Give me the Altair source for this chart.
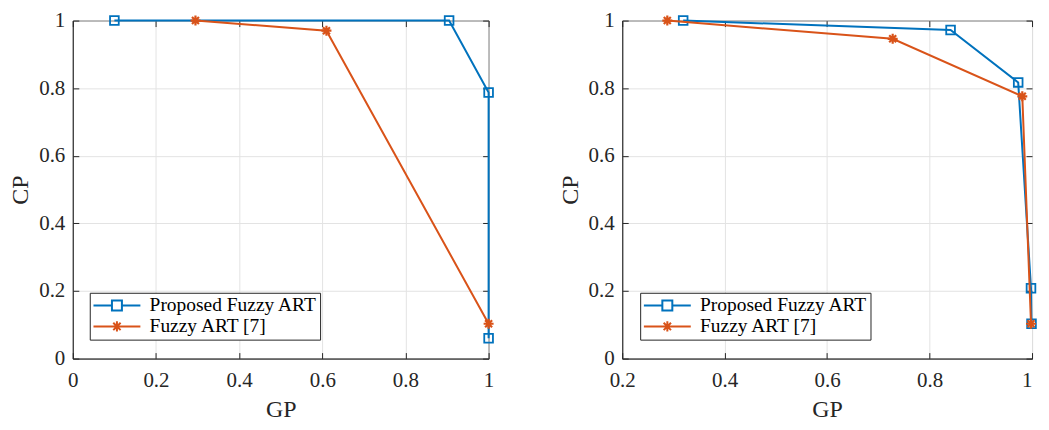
import altair as alt
import pandas as pd

SERIES = ["Proposed Fuzzy ART", "Fuzzy ART [7]"]
BLUE = "#0072BD"
ORANGE = "#D95319"
FONT = "Liberation Serif, Times New Roman, serif"
INK = "#262626"

# Left panel
left_prop_gp = [0.10, 0.905, 1.0, 1.0]
left_prop_cp = [1.0, 1.0, 0.787, 0.06]
left_fz_gp = [0.295, 0.61, 1.0]
left_fz_cp = [1.0, 0.97, 0.103]
left_xticks = [0, 0.2, 0.4, 0.6, 0.8, 1.0]

# Right panel
right_prop_gp = [0.319, 0.841, 0.973, 0.998, 0.999]
right_prop_cp = [1.0, 0.972, 0.817, 0.208, 0.103]
right_fz_gp = [0.288, 0.728, 0.981, 0.998]
right_fz_cp = [1.0, 0.946, 0.776, 0.103]
right_xticks = [0.2, 0.4, 0.6, 0.8, 1.0]

yticks = [0, 0.2, 0.4, 0.6, 0.8, 1.0]

STAR = "M-1,0L1,0M0,-1L0,1M-0.7,-0.7L0.7,0.7M-0.7,0.7L0.7,-0.7"
SQUARE_LEG = ("M-2.94,0L-0.625,0M0.625,0L2.94,0"
              "M-0.625,-0.625L0.625,-0.625L0.625,0.625L-0.625,0.625Z")
STAR_LEG = ("M-2.94,0L2.94,0M0,-0.64L0,0.64"
            "M-0.46,-0.46L0.46,0.46M-0.46,0.46L0.46,-0.46")

W_LEFT, W_RIGHT, H = 417, 411, 339


def frame(gp, cp, name):
    return pd.DataFrame({"GP": gp, "CP": cp, "series": name, "i": list(range(len(gp)))})


def panel(pgp, pcp, fgp, fcp, xmin, xticks, width, legx):
    dp = frame(pgp, pcp, SERIES[0])
    dfz = frame(fgp, fcp, SERIES[1])
    xs = alt.Scale(domain=[xmin, 1], nice=False, zero=False)
    ys = alt.Scale(domain=[0, 1], nice=False)
    inward = {"expr": "-6"}
    x_main = alt.X(
        "GP:Q", scale=xs,
        axis=alt.Axis(title="GP", values=xticks, format=".1~f", grid=True,
                      tickSize=inward, labelPadding=17, titlePadding=7,
                      labelFont=FONT, titleFont=FONT,
                      labelAlign={"expr": "datum.value == 1 && %s > 0.1 ? 'right' : 'center'" % xmin}),
    )
    y_main = alt.Y(
        "CP:Q", scale=ys,
        axis=alt.Axis(title="CP", values=yticks, format=".1~f", grid=True,
                      tickSize=inward, labelPadding=14, titlePadding=6,
                      labelFont=FONT, titleFont=FONT),
    )
    x_none = alt.X("GP:Q", scale=xs, axis=None)
    y_none = alt.Y("CP:Q", scale=ys, axis=None)

    blue_line = alt.Chart(dp).mark_line(color=BLUE, strokeWidth=2).encode(
        x=x_main, y=y_main, order="i:Q")
    blue_pts = alt.Chart(dp).mark_point(
        shape="square", size=76, color=BLUE, strokeWidth=1.8, filled=False, opacity=1
    ).encode(x=x_none, y=y_none)
    orange_line = alt.Chart(dfz).mark_line(color=ORANGE, strokeWidth=2).encode(
        x=x_none, y=y_none, order="i:Q")
    orange_pts = alt.Chart(dfz).mark_point(
        shape=STAR, size=100, color=ORANGE, strokeWidth=2.2, filled=False, opacity=1
    ).encode(x=x_none, y=y_none)

    leg = alt.Legend(
        title=None, orient="none", legendX=legx, legendY=273,
        fillColor="white", strokeColor=INK, padding=3, cornerRadius=0,
        symbolSize=256, symbolStrokeWidth=2, symbolOpacity=1, symbolOffset=14.5,
        labelFont=FONT, labelFontSize=19.5, labelColor="black", labelLimit=400,
        labelOffset=23, rowPadding=0,
    )
    legend_layer = alt.Chart(pd.concat([dp, dfz])).mark_point(
        opacity=0, filled=False, strokeWidth=2
    ).encode(
        x=alt.X("GP:Q", scale=xs,
                axis=alt.Axis(orient="top", labels=False, title=None, grid=False,
                              domain=False, values=xticks, tickSize=inward)),
        y=alt.Y("CP:Q", scale=ys,
                axis=alt.Axis(orient="right", labels=False, title=None, grid=False,
                              domain=False, values=yticks, tickSize=inward)),
        stroke=alt.Stroke("series:N", scale=alt.Scale(domain=SERIES, range=[BLUE, ORANGE]), legend=leg),
        shape=alt.Shape("series:N", scale=alt.Scale(domain=SERIES, range=[SQUARE_LEG, STAR_LEG]), legend=leg),
    )
    return alt.layer(blue_line, blue_pts, orange_line, orange_pts, legend_layer).resolve_axis(
        x="independent", y="independent"
    ).properties(width=width, height=H)


left = panel(left_prop_gp, left_prop_cp, left_fz_gp, left_fz_cp, 0, left_xticks, W_LEFT, 17)
right = panel(right_prop_gp, right_prop_cp, right_fz_gp, right_fz_cp, 0.2, right_xticks, W_RIGHT, 18)

chart = alt.hconcat(left, right, spacing=134, bounds="flush").resolve_scale(
    stroke="independent", shape="independent"
).resolve_legend(
    stroke="independent", shape="independent"
).properties(
    padding={"left": 0, "top": 0, "right": 0, "bottom": 0}
).configure(
    font=FONT,
    style={"guide-label": {"font": FONT}, "guide-title": {"font": FONT}},
).configure_view(
    stroke=INK, strokeWidth=1
).configure_axis(
    labelFont=FONT, labelFontSize=21, labelColor=INK,
    titleFont=FONT, titleFontSize=24, titleFontWeight="normal", titleColor=INK,
    domainColor=INK, tickColor=INK, gridColor="#e3e3e3", gridWidth=1,
).configure_legend(
    labelFont=FONT
)

chart.save("out.html", embed_options={"renderer": "svg", "actions": False})
